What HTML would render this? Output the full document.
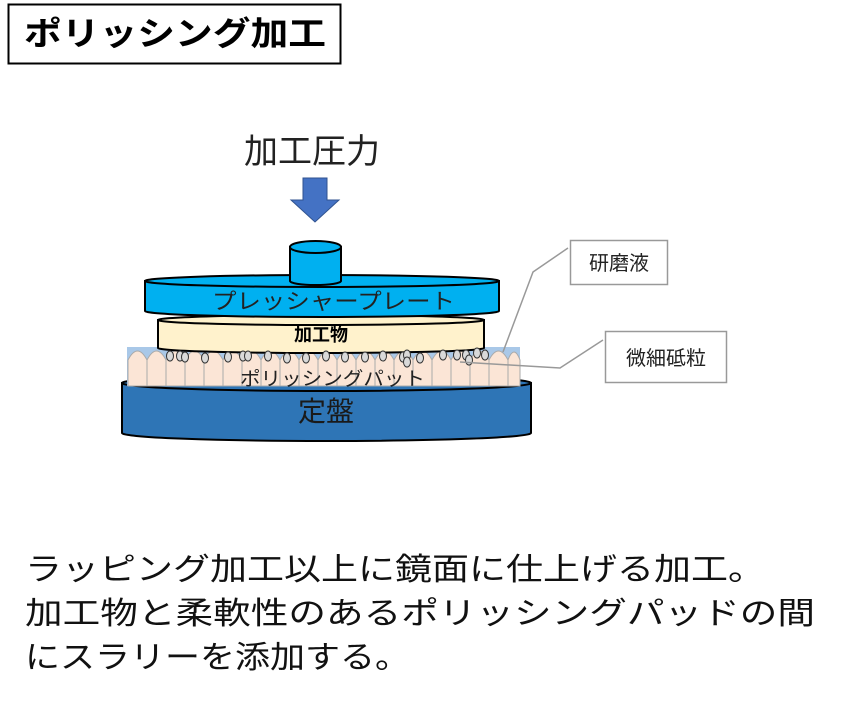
<!DOCTYPE html>
<html><head><meta charset="utf-8"><style>html,body{margin:0;padding:0;background:#fff;}svg{display:block;}</style></head>
<body>
<svg width="846" height="705" viewBox="0 0 846 705" xmlns="http://www.w3.org/2000/svg" font-family="Liberation Sans, Noto Sans CJK JP, sans-serif">
<rect x="8.5" y="4.5" width="332" height="59" fill="#fff" stroke="#000" stroke-width="2"/>
<text x="24" y="45" font-size="33" font-weight="bold" textLength="302" lengthAdjust="spacingAndGlyphs">ポリッシング加工</text>
<text x="312" y="163" font-size="34" text-anchor="middle" fill="#222">加工圧力</text>
<polygon points="303,178 327,178 327,200 339,200 315,222 291,200 303,200" fill="#4472c4" stroke="#2f528f" stroke-width="1"/>
<!-- platen -->
<path d="M122,383 L122,433 A204.5,8 0 0 0 531,433 L531,383 Z" fill="#2e75b6" stroke="#000" stroke-width="2"/>
<ellipse cx="326.5" cy="383" rx="204.5" ry="8" fill="#2e75b6" stroke="#000" stroke-width="2"/>
<text x="326" y="421" font-size="28" text-anchor="middle" fill="#1a1a1a">定盤</text>
<!-- pad -->
<rect x="127" y="347" width="393" height="39" fill="#a9c8e8"/>
<g fill="#fbe5d6" stroke="#aaa" stroke-width="1">
<path d="M128,386 L128,360 Q137.5,342 147,360 L147,386 Z"/>
<path d="M147,386 L147,360 Q156.5,342 166,360 L166,386 Z"/>
<path d="M166,386 L166,360 Q175.5,342 185,360 L185,386 Z"/>
<path d="M185,386 L185,360 Q194.5,342 204,360 L204,386 Z"/>
<path d="M204,386 L204,360 Q213.5,342 223,360 L223,386 Z"/>
<path d="M223,386 L223,360 Q232.5,342 242,360 L242,386 Z"/>
<path d="M242,386 L242,360 Q251.5,342 261,360 L261,386 Z"/>
<path d="M261,386 L261,360 Q270.5,342 280,360 L280,386 Z"/>
<path d="M280,386 L280,360 Q289.5,342 299,360 L299,386 Z"/>
<path d="M299,386 L299,360 Q308.5,342 318,360 L318,386 Z"/>
<path d="M318,386 L318,360 Q327.5,342 337,360 L337,386 Z"/>
<path d="M337,386 L337,360 Q346.5,342 356,360 L356,386 Z"/>
<path d="M356,386 L356,360 Q365.5,342 375,360 L375,386 Z"/>
<path d="M375,386 L375,360 Q384.5,342 394,360 L394,386 Z"/>
<path d="M394,386 L394,360 Q403.5,342 413,360 L413,386 Z"/>
<path d="M413,386 L413,360 Q422.5,342 432,360 L432,386 Z"/>
<path d="M432,386 L432,360 Q441.5,342 451,360 L451,386 Z"/>
<path d="M451,386 L451,360 Q460.5,342 470,360 L470,386 Z"/>
<path d="M470,386 L470,360 Q479.5,342 489,360 L489,386 Z"/>
<path d="M489,386 L489,360 Q498.5,342 508,360 L508,386 Z"/>
<path d="M508,386 L508,360 Q514,344 520,360 L520,386 Z"/>
</g>
<text x="240" y="385" font-size="19" fill="#222" textLength="185" lengthAdjust="spacingAndGlyphs">ポリッシングパット</text>
<!-- workpiece -->
<path d="M158,320 L158,348 A163,5 0 0 0 484,348 L484,320 Z" fill="#fff2cc" stroke="#000" stroke-width="2"/>
<ellipse cx="321" cy="320" rx="163" ry="5" fill="#fff2cc" stroke="#000" stroke-width="2"/>
<text x="321" y="341" font-size="18" font-weight="bold" text-anchor="middle">加工物</text>
<!-- particles -->
<g fill="#d9d9d9" stroke="#333" stroke-width="1">
<ellipse cx="170" cy="356" rx="3.5" ry="5"/><ellipse cx="180" cy="356" rx="3.5" ry="5"/><ellipse cx="185" cy="357" rx="3.5" ry="5"/>
<ellipse cx="205" cy="358" rx="3.5" ry="5"/><ellipse cx="228" cy="357" rx="3.5" ry="5"/><ellipse cx="243" cy="356" rx="3.5" ry="5"/>
<ellipse cx="248" cy="356" rx="3.5" ry="5"/><ellipse cx="268" cy="356" rx="3.5" ry="5"/><ellipse cx="287" cy="358" rx="3.5" ry="5"/>
<ellipse cx="306" cy="358" rx="3.5" ry="5"/><ellipse cx="326" cy="356" rx="3.5" ry="5"/><ellipse cx="345" cy="357" rx="3.5" ry="5"/>
<ellipse cx="365" cy="357" rx="3.5" ry="5"/><ellipse cx="383" cy="356" rx="3.5" ry="5"/><ellipse cx="403" cy="357" rx="3.5" ry="5"/>
<ellipse cx="407" cy="355" rx="3.5" ry="5"/><ellipse cx="407" cy="362" rx="3.5" ry="5"/><ellipse cx="420" cy="358" rx="3.5" ry="5"/>
<ellipse cx="443" cy="355" rx="3.5" ry="5"/><ellipse cx="457" cy="355" rx="3.5" ry="5"/><ellipse cx="466" cy="355" rx="3.5" ry="5"/>
<ellipse cx="469" cy="360" rx="3.5" ry="5"/><ellipse cx="477" cy="353" rx="3.5" ry="5"/><ellipse cx="485" cy="355" rx="3.5" ry="5"/>
</g>
<!-- pressure plate -->
<path d="M145,281 L145,311 A177,6 0 0 0 499,311 L499,281 Z" fill="#00b0f0" stroke="#000" stroke-width="2"/>
<ellipse cx="322" cy="281" rx="177" ry="6" fill="#00b0f0" stroke="#000" stroke-width="2"/>
<text x="212" y="309" font-size="22" fill="#222" textLength="243" lengthAdjust="spacingAndGlyphs">プレッシャープレート</text>
<!-- knob -->
<path d="M290,247 L290,281 A25.5,4 0 0 0 341,281 L341,247 Z" fill="#00b0f0" stroke="#000" stroke-width="2"/>
<ellipse cx="315.5" cy="247" rx="25.5" ry="6" fill="#00b0f0" stroke="#000" stroke-width="2"/>
<!-- callouts -->
<polyline points="503,352 533,272 568,248" fill="none" stroke="#999" stroke-width="1.5"/>
<rect x="570.5" y="240.5" width="97" height="44" fill="#fff" stroke="#999" stroke-width="1.5"/>
<text x="619" y="270" font-size="20" text-anchor="middle" fill="#222">研磨液</text>
<polyline points="460,362 560,368 603,340" fill="none" stroke="#999" stroke-width="1.5"/>
<rect x="605.5" y="331.5" width="121" height="51" fill="#fff" stroke="#999" stroke-width="1.5"/>
<text x="666" y="365" font-size="20" text-anchor="middle" fill="#222">微細砥粒</text>
<!-- description -->
<g font-size="31" fill="#111">
<text x="25" y="580" textLength="740" lengthAdjust="spacingAndGlyphs">ラッピング加工以上に鏡面に仕上げる加工。</text>
<text x="25" y="624" textLength="790" lengthAdjust="spacingAndGlyphs">加工物と柔軟性のあるポリッシングパッドの間</text>
<text x="25" y="668" textLength="385" lengthAdjust="spacingAndGlyphs">にスラリーを添加する。</text>
</g>
</svg>
</body></html>
